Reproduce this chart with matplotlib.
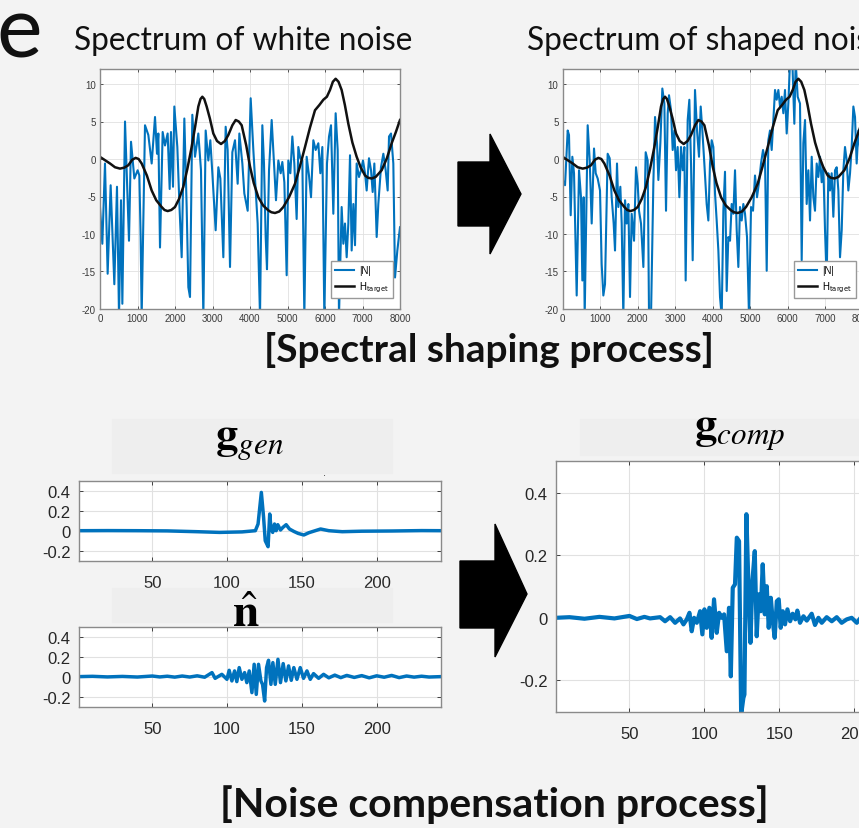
import numpy as np
import matplotlib.pyplot as plt
from matplotlib.patches import Polygon, Rectangle

# ---- data ----
FREQ_TICKS = [0, 1000, 2000, 3000, 4000, 5000, 6000, 7000, 8000]
DB_TICKS = [-20, -15, -10, -5, 0, 5, 10]
SAMPLE_TICKS = [50, 100, 150, 200]
AMP_TICKS = [-0.2, 0, 0.2, 0.4]

# |N| of white noise (dB)
WN_FREQ = [0, 62, 133, 204, 284, 382, 453, 507, 560, 596, 667, 773, 827, 916, 1004, 1049,
           1084, 1111, 1200, 1289, 1378, 1467, 1520, 1556, 1600, 1671, 1733, 1804, 1858,
           1893, 1947, 1982, 2062, 2124, 2178, 2249, 2311, 2356, 2400, 2462, 2533, 2622,
           2693, 2756, 2818, 2889, 2942, 2996, 3084, 3156, 3209, 3289, 3351, 3404, 3467,
           3529, 3600, 3671, 3716, 3796, 3849, 3938, 4018, 4089, 4151, 4204, 4267, 4329,
           4373, 4418, 4453, 4507, 4578, 4640, 4693, 4756, 4818, 4862, 4916, 4978, 5022,
           5076, 5129, 5182, 5244, 5289, 5342, 5396, 5449, 5511, 5573, 5627, 5689, 5751,
           5822, 5876, 5929, 5982, 6053, 6107, 6160, 6222, 6284, 6338, 6373, 6444, 6489,
           6533, 6578, 6622, 6667, 6711, 6756, 6800, 6844, 6907, 6960, 7013, 7067, 7111,
           7173, 7227, 7271, 7316, 7378, 7422, 7493, 7556, 7618, 7671, 7707, 7760, 7822,
           7867, 7929, 8000]
WN_DB = [-6.4, -11.3, -0.6, -15.3, -3.5, -16.7, -3.7, -21, -5.5, -19.3, 5.0, -10.9, 2.3, -2.6,
         -1.5, -2.2, -10.4, -21, 4.5, 3.2, -0.6, 5.6, 0.7, 3.4, -11.8, 3.6, 1.8, 3.4, -4.0,
         3.6, -3.7, 7.0, 1.6, -6.9, -13.1, 5.4, -6.4, -17.1, -18.4, 5.9, 0.3, 3.4, -1.5, -21,
         3.8, -0.2, 2.5, -1.9, -9.5, -1.1, -2.6, -13.1, 4.3, 1.2, -14.4, 0.9, 2.5, -3.3, 3.4,
         -0.6, -4.6, -6.9, 8.1, 1.2, -4.2, -8.6, -21, 4.5, -0.6, -10.4, -14.7, -1.5, 5.2,
         -0.6, -5.5, -0.2, -1.9, -0.4, -3.1, -15.5, -0.2, -1.9, 3.0, -0.6, -8.0, 1.6, 0.1,
         -0.2, -21, 0.3, -2.2, -5.1, 2.5, 1.2, 2.1, -1.9, 1.6, -21, -0.6, 3.0, 4.5, -7.3, 6.1,
         1.2, -21, -6.4, -11.3, -8.6, -13.1, -8.6, 0.5, -12.2, -6.0, -11.5, -0.6, -2.4, -1.5,
         -0.2, -1.9, -4.2, 0.1, -1.5, -4.4, -0.6, -10.4, -6.0, -1.1, 0.7, -1.5, -4.2, 3.0,
         3.4, -0.6, -15.8, -12.2, -9.1]

# |N| of shaped noise (dB)
SN_FREQ = [0, 62, 133, 168, 213, 257, 302, 373, 435, 488, 524, 559, 586, 666, 720, 773, 835,
           880, 933, 995, 1039, 1084, 1128, 1199, 1253, 1306, 1359, 1395, 1448, 1484, 1537,
           1573, 1617, 1662, 1706, 1751, 1795, 1839, 1902, 1955, 2000, 2035, 2088, 2151,
           2213, 2266, 2302, 2355, 2417, 2462, 2515, 2551, 2604, 2657, 2711, 2755, 2800,
           2835, 2888, 2933, 2977, 3022, 3066, 3111, 3155, 3200, 3244, 3279, 3333, 3377,
           3422, 3466, 3528, 3582, 3635, 3680, 3724, 3777, 3839, 3884, 3928, 3973, 4017,
           4062, 4106, 4151, 4195, 4240, 4284, 4328, 4373, 4417, 4462, 4506, 4551, 4595,
           4640, 4684, 4728, 4773, 4817, 4862, 4915, 4968, 5022, 5075, 5128, 5182, 5235,
           5288, 5342, 5395, 5440, 5484, 5528, 5573, 5617, 5662, 5706, 5751, 5795, 5840,
           5884, 5928, 5973, 6017, 6062, 6124, 6177, 6213, 6266, 6328, 6373, 6417, 6462,
           6506, 6551, 6595, 6640, 6684, 6728, 6773, 6817, 6862, 6906, 6951, 6995, 7039,
           7084, 7128, 7173, 7217, 7262, 7306, 7351, 7395, 7440, 7484, 7528, 7573, 7617,
           7662, 7706, 7751, 7795, 7839, 7884, 7950, 8000]
SN_DB = [-2.8, -3.5, 3.8, 3.2, -7.5, 0.3, -1.9, -18.2, -1.5, -5.1, -16.2, -5.1, -21, 4.5,
         -0.2, -8.6, 1.4, -1.9, -2.6, -4.2, -14.0, -18.2, -16.7, 0.7, 0.1, -5.1, -8.6, -12.2,
         -0.6, -6.4, -3.7, -8.6, -21, -5.5, -8.6, -6.0, -18.4, -7.3, -10.9, -1.1, -3.3, -6.9,
         -8.6, -14.4, 0.9, -0.2, -21, -21, -3.3, 5.6, 2.1, -2.8, 2.1, 9.4, 7.4, -6.9, 6.1,
         8.5, 6.5, 1.2, 3.8, -1.5, 1.6, -5.1, 1.6, -1.5, 1.6, -16.2, 5.2, 7.9, -0.6, -13.5,
         9.2, 3.8, 0.3, 7.0, 3.8, -0.6, -6.0, -8.2, -0.6, 2.5, 1.6, -4.6, -8.2, -12.2, -18.4,
         -21, -6.9, -1.7, -17.6, -10.4, -10.9, -6.0, -7.3, -1.5, -9.5, -14.4, -6.4, -8.2,
         -6.0, -7.3, -10.4, -21, -6.4, -6.9, -2.2, -5.1, -3.1, -0.6, 1.2, -0.2, -14.9, 2.5,
         3.8, 1.2, 5.2, 9.2, 7.9, 9.2, 7.0, 8.3, 6.1, 9.2, 3.4, 7.4, 13, 13, 4.7, 13, 8.3,
         7.4, -13.5, 2.1, 5.2, -6.0, -1.5, -8.2, 0.3, -5.1, -6.9, -0.6, -2.4, 0.3, -3.1,
         -1.1, -9.5, -16.2, -1.9, -4.2, -1.9, -7.7, -1.5, -1.1, -4.2, -13.1, -9.5, -1.5, 1.6,
         -0.2, -4.2, -1.9, 1.6, 7.0, 5.6, -0.6, 3.8, 0.5, -2.0]

# H_target (dB)
HT_FREQ = [0, 267, 400, 533, 650, 756, 860, 951, 1030, 1111, 1250, 1378, 1500, 1644, 1720,
           1804, 1900, 2000, 2110, 2222, 2330, 2444, 2540, 2622, 2680, 2729, 2780, 2844,
           2930, 3022, 3120, 3227, 3330, 3422, 3530, 3618, 3700, 3778, 3900, 4000, 4100,
           4222, 4350, 4489, 4570, 4667, 4780, 4889, 5040, 5200, 5330, 5467, 5600, 5733,
           5850, 5956, 6050, 6133, 6210, 6284, 6360, 6444, 6530, 6622, 6730, 6844, 6950,
           7067, 7150, 7244, 7350, 7511, 7650, 7778, 7890, 8000]
HT_DB = [0.28, -0.6, -1.1, -1.28, -1.15, -0.83, -0.1, 0.15, 0.0, -0.6, -2.2, -4.2, -5.5,
         -6.4, -6.8, -6.94, -6.8, -6.4, -5.3, -3.7, -1.3, 1.6, 4.4, 7.0, 8.0, 8.3, 8.0, 7.0,
         5.4, 3.4, 2.4, 2.0, 2.4, 3.2, 4.5, 5.2, 5.0, 4.5, 1.8, -1.0, -3.2, -5.1, -6.2, -6.85,
         -7.1, -7.2, -7.0, -6.4, -5.1, -3.3, -1.0, 1.6, 4.2, 6.5, 7.2, 7.9, 8.3, 9.2, 10.3,
         10.7, 10.3, 9.2, 7.2, 4.7, 2.2, 0.3, -1.1, -2.2, -2.5, -2.6, -2.4, -1.5, 0.1, 2.1,
         3.6, 5.2]

# g_gen
GGEN_N = [1, 20, 40, 60, 80, 95, 110, 118.9, 120.7, 122.9, 124.4, 125.5, 127.4, 128.5,
          129.4, 130.5, 131.7, 132.8, 133.9, 135.7, 137.3, 139.5, 141.7, 144.6, 147.5,
          151.3, 154.7, 162.5, 168, 177, 190, 210, 230, 243]
GGEN_VAL = [0, 0.001, 0, -0.002, -0.01, -0.017, -0.012, 0, 0.067, 0.383, 0.133, -0.1, -0.16,
            0.167, 0.017, -0.017, 0.067, 0, 0.06, 0.007, 0.033, 0.06, 0.017, -0.007, -0.027,
            -0.043, -0.02, 0.017, 0, -0.01, -0.005, -0.003, 0.001, 0]

# n_hat
NHAT_N = [1, 10, 20, 30, 40, 50, 55, 60, 65, 70, 75, 80, 85, 89.9, 92, 96.5, 99.9, 101.4,
          103.2, 105, 106.5, 108.1, 109.9, 111.7, 113.2, 114.8, 116.6, 118.1, 119.5, 121,
          122.6, 123.7, 125.1, 126.4, 127.7, 129.3, 130.6, 132.2, 134, 135.7, 137.5, 139.3,
          141.1, 142.9, 144.6, 146.7, 148.9, 151.1, 153.4, 155.6, 157.8, 161.2, 164.5, 168,
          172, 176, 180, 185, 190, 195, 200, 205, 210, 215, 220, 225, 230, 235, 243]
NHAT_VAL = [0, 0.003, -0.003, 0.002, -0.004, 0.006, -0.003, 0.004, -0.005, 0.006, -0.004,
            0.008, -0.006, 0.04, -0.017, 0.023, -0.027, 0.063, -0.043, 0.057, -0.05, 0.09,
            -0.027, 0.04, -0.06, 0.057, -0.16, 0.123, -0.177, 0.123, -0.043, -0.077, -0.243,
            0.09, 0.163, -0.077, 0.14, -0.077, 0.173, -0.06, 0.13, -0.043, 0.107, -0.037,
            0.09, -0.027, 0.09, -0.017, 0.057, -0.027, 0.03, -0.017, 0.023, -0.012, 0.015,
            -0.01, 0.012, -0.008, 0.01, -0.012, 0.008, -0.006, 0.012, -0.01, 0.006, -0.005,
            0.004, -0.004, 0]

# g_comp
GCOMP_N = [1, 10, 20, 30, 40, 50, 55, 60, 63.8, 70.5, 73.8, 77.2, 80.5, 83.8, 86.1, 88.3,
           90.1, 91.6, 93.2, 95.0, 97.2, 98.7, 100.1, 101.6, 103.4, 104.9, 106.5, 108.3,
           109.9, 111.6, 113.2, 115.0, 116.5, 117.7, 119.0, 120.5, 121.7, 123.2, 124.6,
           126.1, 126.8, 128.1, 129.7, 130.8, 132.1, 133.7, 135.0, 136.3, 137.7, 139.0,
           140.4, 141.7, 143.0, 144.4, 145.7, 147.0, 148.4, 149.7, 151.0, 152.4, 153.9,
           155.5, 157.3, 159.0, 160.8, 162.1, 163.9, 166.2, 168.4, 171.7, 173.9, 176.2,
           178.4, 181.7, 185.1, 188.4, 191.7, 195.1, 198.4, 201.8, 205, 210, 220, 230, 243]
GCOMP_VAL = [0, 0.002, -0.003, 0.003, -0.002, 0.006, -0.004, 0.003, -0.002, 0.002, -0.011,
             0.002, -0.016, -0.002, -0.021, -0.005, 0.016, -0.043, 0.0, -0.016, 0.021,
             -0.053, 0.027, -0.032, 0.032, -0.064, 0.059, -0.048, 0.016, 0.0, 0.011, -0.107,
             0.032, -0.187, 0.096, 0.107, 0.256, 0.245, -0.31, -0.256, -0.245, 0.331, 0.064,
             -0.08, 0.117, 0.213, -0.059, 0.075, 0.021, 0.171, 0.011, 0.101, -0.032, 0.064,
             -0.011, -0.064, 0.053, 0.059, -0.032, 0.021, -0.021, 0.027, -0.011, 0.013,
             -0.005, 0.023, -0.016, 0.005, -0.009, 0.013, -0.023, 0.0, -0.016, 0.002, -0.011,
             0.002, -0.016, -0.005, 0.0, -0.016, 0.004, -0.008, 0.003, -0.004, 0]

# ---- layout helpers (pixel positions on the 859x829 slide) ----
W, H = 859, 829
BG = '#f3f3f3'
BLUE = '#0072bd'
TXT = '#262626'


def box(l, t, r, b):
    return [l / W, 1 - b / H, (r - l) / W, (b - t) / H]


def pt(x, y):
    return (x / W, 1 - y / H)


def style_axes(ax, labelsize, pad, grid_lw):
    ax.set_facecolor('white')
    ax.grid(True, color='#e1e1e1', lw=grid_lw)
    ax.set_axisbelow(True)
    ax.tick_params(direction='in', top=True, right=True, labelsize=labelsize,
                   colors=TXT, length=3, width=0.6, pad=pad)
    for s in ax.spines.values():
        s.set_color('#8a8a8a')
        s.set_linewidth(1.0)


plt.rcParams['axes.unicode_minus'] = False
plt.rcParams['font.family'] = ['Liberation Sans', 'DejaVu Sans']

fig = plt.figure(figsize=(W / 100, H / 100), dpi=100, facecolor=BG)


def spectrum(rect, freq, mag):
    ax = fig.add_axes(box(*rect))
    ax.plot(freq, mag, color=BLUE, lw=1.5, label='|N|')
    ax.plot(HT_FREQ, HT_DB, color='#111111', lw=1.8, label=r'H$_{\rm target}$')
    ax.set_xlim(0, 8000)
    ax.set_ylim(-20, 12)
    ax.set_xticks(FREQ_TICKS)
    ax.set_yticks(DB_TICKS)
    style_axes(ax, 7, 3, 0.6)
    ax.tick_params(length=2, colors='#3a3a3a')
    ax.legend(loc='lower right', bbox_to_anchor=(1 - 7 / 300, 11 / 240), borderaxespad=0,
              fontsize=7, handlelength=2.0, fancybox=False, framealpha=1,
              edgecolor='#999999', borderpad=0.4, labelspacing=0.45, handletextpad=0.5)
    return ax


spectrum((100, 70, 400, 310), WN_FREQ, WN_DB)
spectrum((562.7, 70, 862.7, 310), SN_FREQ, SN_DB)


def impulse(rect, n, val, lw, xpad):
    ax = fig.add_axes(box(*rect))
    ax.plot(n, val, color=BLUE, lw=lw)
    ax.set_xlim(1, 243)
    ax.set_ylim(-0.3, 0.5)
    ax.set_xticks(SAMPLE_TICKS)
    ax.set_yticks(AMP_TICKS)
    ax.set_yticklabels(['-0.2', '0', '0.2', '0.4'])
    style_axes(ax, 12, 6, 0.8)
    ax.tick_params(axis='x', pad=xpad)
    return ax


# light title panels behind the bold symbols
for l, t, r, b in [(112, 420, 392, 474), (112, 589, 392, 623), (580, 420, 900, 456)]:
    fig.patches.append(Rectangle(pt(l, b), (r - l) / W, (b - t) / H,
                                 transform=fig.transFigure, color='#eeeeee', zorder=0))

impulse((79, 481.7, 441, 561.7), GGEN_N, GGEN_VAL, 2.5, 10)
impulse((79, 627.5, 441, 707.7), NHAT_N, NHAT_VAL, 2.5, 10)
impulse((556, 462.3, 918.5, 712.7), GCOMP_N, GCOMP_VAL, 3.0, 10)

# block arrows
for shape in [[(458, 163), (490, 163), (490, 135), (521, 195), (490, 255), (490, 227), (458, 227)],
              [(460, 562), (495, 562), (495, 525), (527, 595), (495, 658), (495, 629), (460, 629)]]:
    fig.patches.append(Polygon([pt(x, y) for x, y in shape], closed=True,
                               transform=fig.transFigure, color='black', zorder=3))

# slide texts
fig.text(*pt(42, 57), 'e', family='Lato', fontsize=62, ha='right', va='baseline', color='#111111')
fig.text(*pt(243.5, 50), 'Spectrum of white noise', family='Lato', fontsize=22.8,
         ha='center', va='baseline', color='#111111')
fig.text(*pt(526.7, 50), 'Spectrum of shaped noise', family='Lato', fontsize=22.8,
         ha='left', va='baseline', color='#111111')
fig.text(*pt(489, 350), '[Spectral shaping process]', family='Lato', fontsize=28,
         fontweight='bold', ha='center', va='center', color='#111111')
fig.text(*pt(494, 805), '[Noise compensation process]', family='Lato', fontsize=29.5,
         fontweight='bold', ha='center', va='center', color='#111111')

fig.text(*pt(250, 448), r'$\mathbf{g}_{gen}$', math_fontfamily='stix', fontsize=32,
         ha='center', va='baseline', color='black')
fig.text(*pt(246, 627), r'$\hat{\mathbf{n}}$', math_fontfamily='stix', fontsize=34,
         ha='center', va='baseline', color='black')
fig.text(*pt(740, 438), r'$\mathbf{g}_{comp}$', math_fontfamily='stix', fontsize=32,
         ha='center', va='baseline', color='black')
fig.text(*pt(325, 476), '.', fontsize=8, ha='center', va='baseline', color='#333333')

fig.savefig('out.png', dpi=100, facecolor=BG)
